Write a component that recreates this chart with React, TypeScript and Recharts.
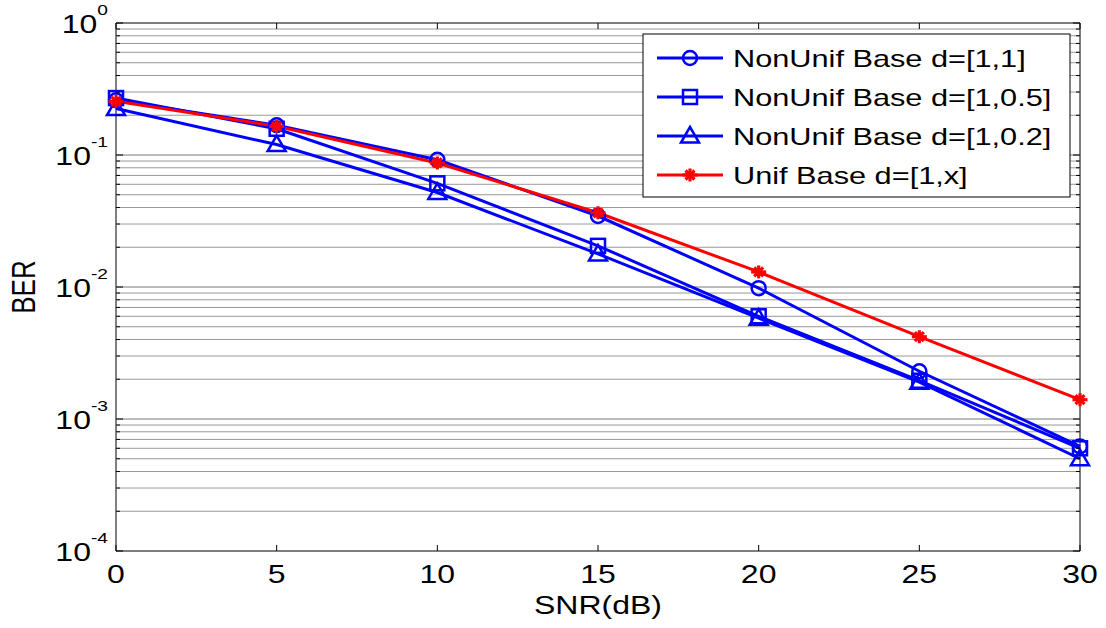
import React from "react";
import {
  LineChart,
  Line,
  XAxis,
  YAxis,
  ReferenceLine,
  ReferenceArea,
  Label,
} from "recharts";

// SNR points (dB)
const snr = [0, 5, 10, 15, 20, 25, 30];

// BER
const berNonUnif11 = [0.26, 0.168, 0.092, 0.0345, 0.0098, 0.0023, 0.00062];
const berNonUnif105 = [0.27, 0.158, 0.061, 0.0205, 0.006, 0.00195, 0.0006];
const berNonUnif102 = [0.225, 0.12, 0.052, 0.0178, 0.0058, 0.0019, 0.0005];
const berUnif = [0.255, 0.165, 0.087, 0.0365, 0.013, 0.0042, 0.0014];

const seriesNames = [
  "NonUnif Base d=[1,1]",
  "NonUnif Base d=[1,0.5]",
  "NonUnif Base d=[1,0.2]",
  "Unif Base d=[1,x]",
];

const yDecades = [1e-4, 1e-3, 1e-2, 1e-1, 1];
const yMinorSteps = [2, 3, 4, 5, 6, 7, 8, 9];

const data = snr.map((s, i) => ({
  snr: s,
  d11: berNonUnif11[i],
  d105: berNonUnif105[i],
  d102: berNonUnif102[i],
  unif: berUnif[i],
}));

const yMinor = yDecades.slice(0, -1).flatMap((d) => yMinorSteps.map((m) => +(d * m).toPrecision(3)));
const yTicks = [...yDecades, ...yMinor].sort((a, b) => a - b);

const W = 1106;
const H = 628;
const PLOT_W = 964;
const PLOT_H = 528;
const FONT = "'Liberation Sans', Arial, Helvetica, sans-serif";
const SX = 1.28; // the original text is stretched sideways
const BLUE = "#0000ff";
const RED = "#ff0000";

const isDecade = (v: number) => Math.abs(Math.log10(v) - Math.round(Math.log10(v))) < 1e-6;

const YTick = (props: any) => {
  const { x, y, payload } = props;
  const v = payload.value;
  const ax = x + 8;
  const major = isDecade(v);
  const len = major ? 7 : 4;
  const exp = Math.round(Math.log10(v));
  return (
    <g>
      <line x1={ax} x2={ax + len} y1={y} y2={y} stroke="#000" strokeWidth={1} />
      <line x1={ax + PLOT_W} x2={ax + PLOT_W - len} y1={y} y2={y} stroke="#000" strokeWidth={1} />
      {major && (
        <text
          transform={`translate(${x},${y + 10}) scale(${SX},1)`}
          textAnchor="end"
          fontFamily={FONT}
          fontSize={25}
          fill="#000"
        >
          10
          <tspan dy={-18} fontSize={15}>
            {exp}
          </tspan>
        </text>
      )}
    </g>
  );
};

const XTick = (props: any) => {
  const { x, y, payload } = props;
  const ay = y - 8;
  return (
    <g>
      <line x1={x} x2={x} y1={ay} y2={ay - 6} stroke="#000" strokeWidth={1} />
      <line x1={x} x2={x} y1={ay - PLOT_H} y2={ay - PLOT_H + 6} stroke="#000" strokeWidth={1} />
      <text
        transform={`translate(${x},${ay + 32}) scale(${SX},1)`}
        textAnchor="middle"
        fontFamily={FONT}
        fontSize={25}
        fill="#000"
      >
        {payload.value}
      </text>
    </g>
  );
};

const CircleMark = ({ cx, cy }: any) =>
  cx == null ? null : <circle cx={cx} cy={cy} r={7} fill="none" stroke={BLUE} strokeWidth={2.5} />;

const SquareMark = ({ cx, cy }: any) =>
  cx == null ? null : (
    <rect x={cx - 7} y={cy - 7} width={14} height={14} fill="none" stroke={BLUE} strokeWidth={2.5} />
  );

const TriangleMark = ({ cx, cy }: any) =>
  cx == null ? null : (
    <polygon
      points={`${cx},${cy - 9} ${cx + 9},${cy + 6.5} ${cx - 9},${cy + 6.5}`}
      fill="none"
      stroke={BLUE}
      strokeWidth={2.5}
    />
  );

const StarMark = ({ cx, cy }: any) =>
  cx == null ? null : (
    <g stroke={RED} strokeWidth={3.2}>
      <line x1={cx - 7.5} x2={cx + 7.5} y1={cy} y2={cy} />
      <line x1={cx} x2={cx} y1={cy - 6.5} y2={cy + 6.5} />
      <line x1={cx - 4.5} x2={cx + 4.5} y1={cy - 4.5} y2={cy + 4.5} />
      <line x1={cx - 4.5} x2={cx + 4.5} y1={cy + 4.5} y2={cy - 4.5} />
    </g>
  );

const markers = [CircleMark, SquareMark, TriangleMark, StarMark];
const colors = [BLUE, BLUE, BLUE, RED];

const LegendBox = () => (
  <svg
    width={429}
    height={165}
    style={{ position: "absolute", left: 642, top: 33 }}
  >
    <rect x={1} y={1} width={427} height={163} fill="#fff" stroke="#000" strokeWidth={1} />
    {seriesNames.map((name, i) => {
      const cy = 25 + i * 39;
      const Mark = markers[i];
      return (
        <g key={name}>
          <line x1={15} x2={81} y1={cy} y2={cy} stroke={colors[i]} strokeWidth={3} />
          <Mark cx={48} cy={cy} />
          <text
            transform={`translate(91,${cy + 9}) scale(${SX},1)`}
            fontFamily={FONT}
            fontSize={24}
            fill="#000"
          >
            {name}
          </text>
        </g>
      );
    })}
  </svg>
);

export default function App() {
  return (
    <div style={{ position: "absolute", left: 0, top: 0, width: W, height: H, background: "#fff" }}>
      <LineChart width={W} height={H} data={data} margin={{ top: 23, right: 26, bottom: 0, left: 0 }}>
        {yMinor.map((v) => (
          <ReferenceLine key={`mn-${v}`} y={v} stroke="#999999" strokeWidth={1} />
        ))}
        {yDecades.slice(1, -1).map((v) => (
          <ReferenceLine key={`mj-${v}`} y={v} stroke="#777777" strokeWidth={1} />
        ))}
        <ReferenceArea x1={0} x2={30} y1={1e-4} y2={1} fill="none" stroke="#000" strokeWidth={1} />
        <XAxis
          dataKey="snr"
          type="number"
          domain={[0, 30]}
          ticks={snr}
          interval={0}
          axisLine={false}
          tickLine={false}
          tickSize={0}
          tickMargin={8}
          height={77}
          tick={<XTick />}
        >
          <Label
            content={({ viewBox }: any) => (
              <text
                transform={`translate(${viewBox.x + viewBox.width / 2},${viewBox.y + 63}) scale(${SX},1)`}
                textAnchor="middle"
                fontFamily={FONT}
                fontSize={25}
                fill="#000"
              >
                SNR(dB)
              </text>
            )}
          />
        </XAxis>
        <YAxis
          scale="log"
          type="number"
          domain={[1e-4, 1]}
          allowDataOverflow
          ticks={yTicks}
          interval={0}
          axisLine={false}
          tickLine={false}
          tickSize={0}
          tickMargin={8}
          width={116}
          tick={<YTick />}
        >
          <Label
            content={({ viewBox }: any) => (
              <text
                transform={`translate(${viewBox.x + 35},${viewBox.y + viewBox.height / 2}) scale(${SX},1) rotate(-90)`}
                textAnchor="middle"
                fontFamily={FONT}
                fontSize={26}
                fill="#000"
              >
                BER
              </text>
            )}
          />
        </YAxis>
        <Line type="linear" dataKey="d11" stroke={BLUE} strokeWidth={3} dot={<CircleMark />} activeDot={false} isAnimationActive={false} />
        <Line type="linear" dataKey="d105" stroke={BLUE} strokeWidth={3} dot={<SquareMark />} activeDot={false} isAnimationActive={false} />
        <Line type="linear" dataKey="d102" stroke={BLUE} strokeWidth={3} dot={<TriangleMark />} activeDot={false} isAnimationActive={false} />
        <Line type="linear" dataKey="unif" stroke={RED} strokeWidth={3} dot={<StarMark />} activeDot={false} isAnimationActive={false} />
      </LineChart>
      <LegendBox />
    </div>
  );
}
